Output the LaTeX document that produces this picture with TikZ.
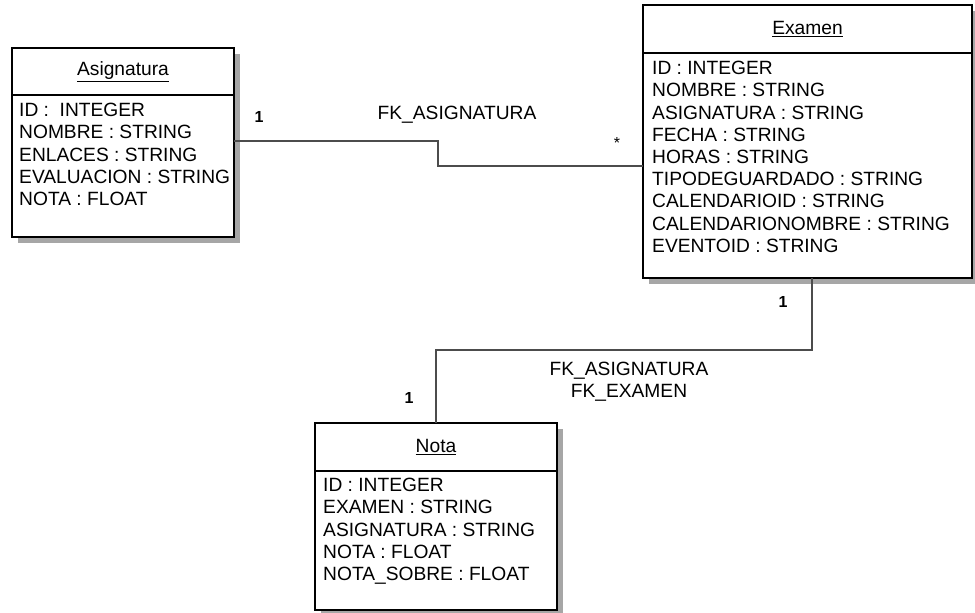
\documentclass[tikz,border=0pt]{standalone}
\usepackage{fontspec}
\setmainfont{Liberation Sans}
\usepackage{tikz}
\usetikzlibrary{shadows}
\begin{document}
\begin{tikzpicture}[x=1pt,y=-1pt]
\tikzstyle{classhead}=[rectangle,draw=black,line width=2.6pt,outer sep=0pt,fill=white,inner sep=0pt,font=\fontsize{19.2}{22}\selectfont,drop shadow={shadow xshift=6pt,shadow yshift=-6pt,fill=black!35,opacity=1}]
\tikzstyle{classbody}=[classhead]
\tikzstyle{attrs}=[inner sep=0pt,align=left,anchor=north west,font=\fontsize{19.2}{22.2}\selectfont]
\tikzstyle{link}=[draw=black!70,line width=2pt]
\tikzstyle{mult}=[inner sep=0pt,font=\fontsize{16}{18}\selectfont\bfseries]
\tikzstyle{fk}=[inner sep=0pt,align=center,font=\fontsize{19.2}{22.2}\selectfont]
\useasboundingbox (0,0) rectangle (975,613);

% Asignatura
\node (asig) [classhead,minimum width=222,minimum height=47] at (123,71.5) {\underline{Asignatura}};
\node (asigbody) [classbody,minimum width=222,minimum height=142,anchor=north] at (asig.south) {};
\node (asigattr) [attrs] at (19,103) {ID :\ \ INTEGER\\NOMBRE : STRING\\ENLACES : STRING\\EVALUACION : STRING\\NOTA : FLOAT};

% Examen
\node (exam) [classhead,minimum width=329,minimum height=48] at (807.5,29) {\underline{Examen}};
\node (exambody) [classbody,minimum width=329,minimum height=225,anchor=north] at (exam.south) {};
\node (examattr) [attrs] at (652,61) {ID : INTEGER\\NOMBRE : STRING\\ASIGNATURA : STRING\\FECHA : STRING\\HORAS : STRING\\TIPODEGUARDADO : STRING\\CALENDARIOID : STRING\\CALENDARIONOMBRE : STRING\\EVENTOID : STRING};

% Nota
\node (nota) [classhead,minimum width=242,minimum height=48] at (436,447) {\underline{Nota}};
\node (notabody) [classbody,minimum width=242,minimum height=139,anchor=north] at (nota.south) {};
\node (notaattr) [attrs] at (323,478) {ID : INTEGER\\EXAMEN : STRING\\ASIGNATURA : STRING\\NOTA : FLOAT\\NOTA\_SOBRE : FLOAT};

% Relaciones
\draw[link] ([yshift=25pt]asigbody.east) -- ++(204,0) |- (exambody.west);
\draw[link] ([xshift=4.5pt]exambody.south) -- ++(0,72) -| (nota.north);

\node (fk1) [fk] at (457,115) {FK\_ASIGNATURA};
\node (m1) [mult] at (259,117) {1};
\node (m2) [inner sep=0pt,font=\fontsize{16}{18}\selectfont] at (617,143) {*};
\node (fk2) [fk] at (629,382) {FK\_ASIGNATURA\\FK\_EXAMEN};
\node (m3) [mult] at (783,302) {1};
\node (m4) [mult] at (409,398) {1};
\end{tikzpicture}
\end{document}
